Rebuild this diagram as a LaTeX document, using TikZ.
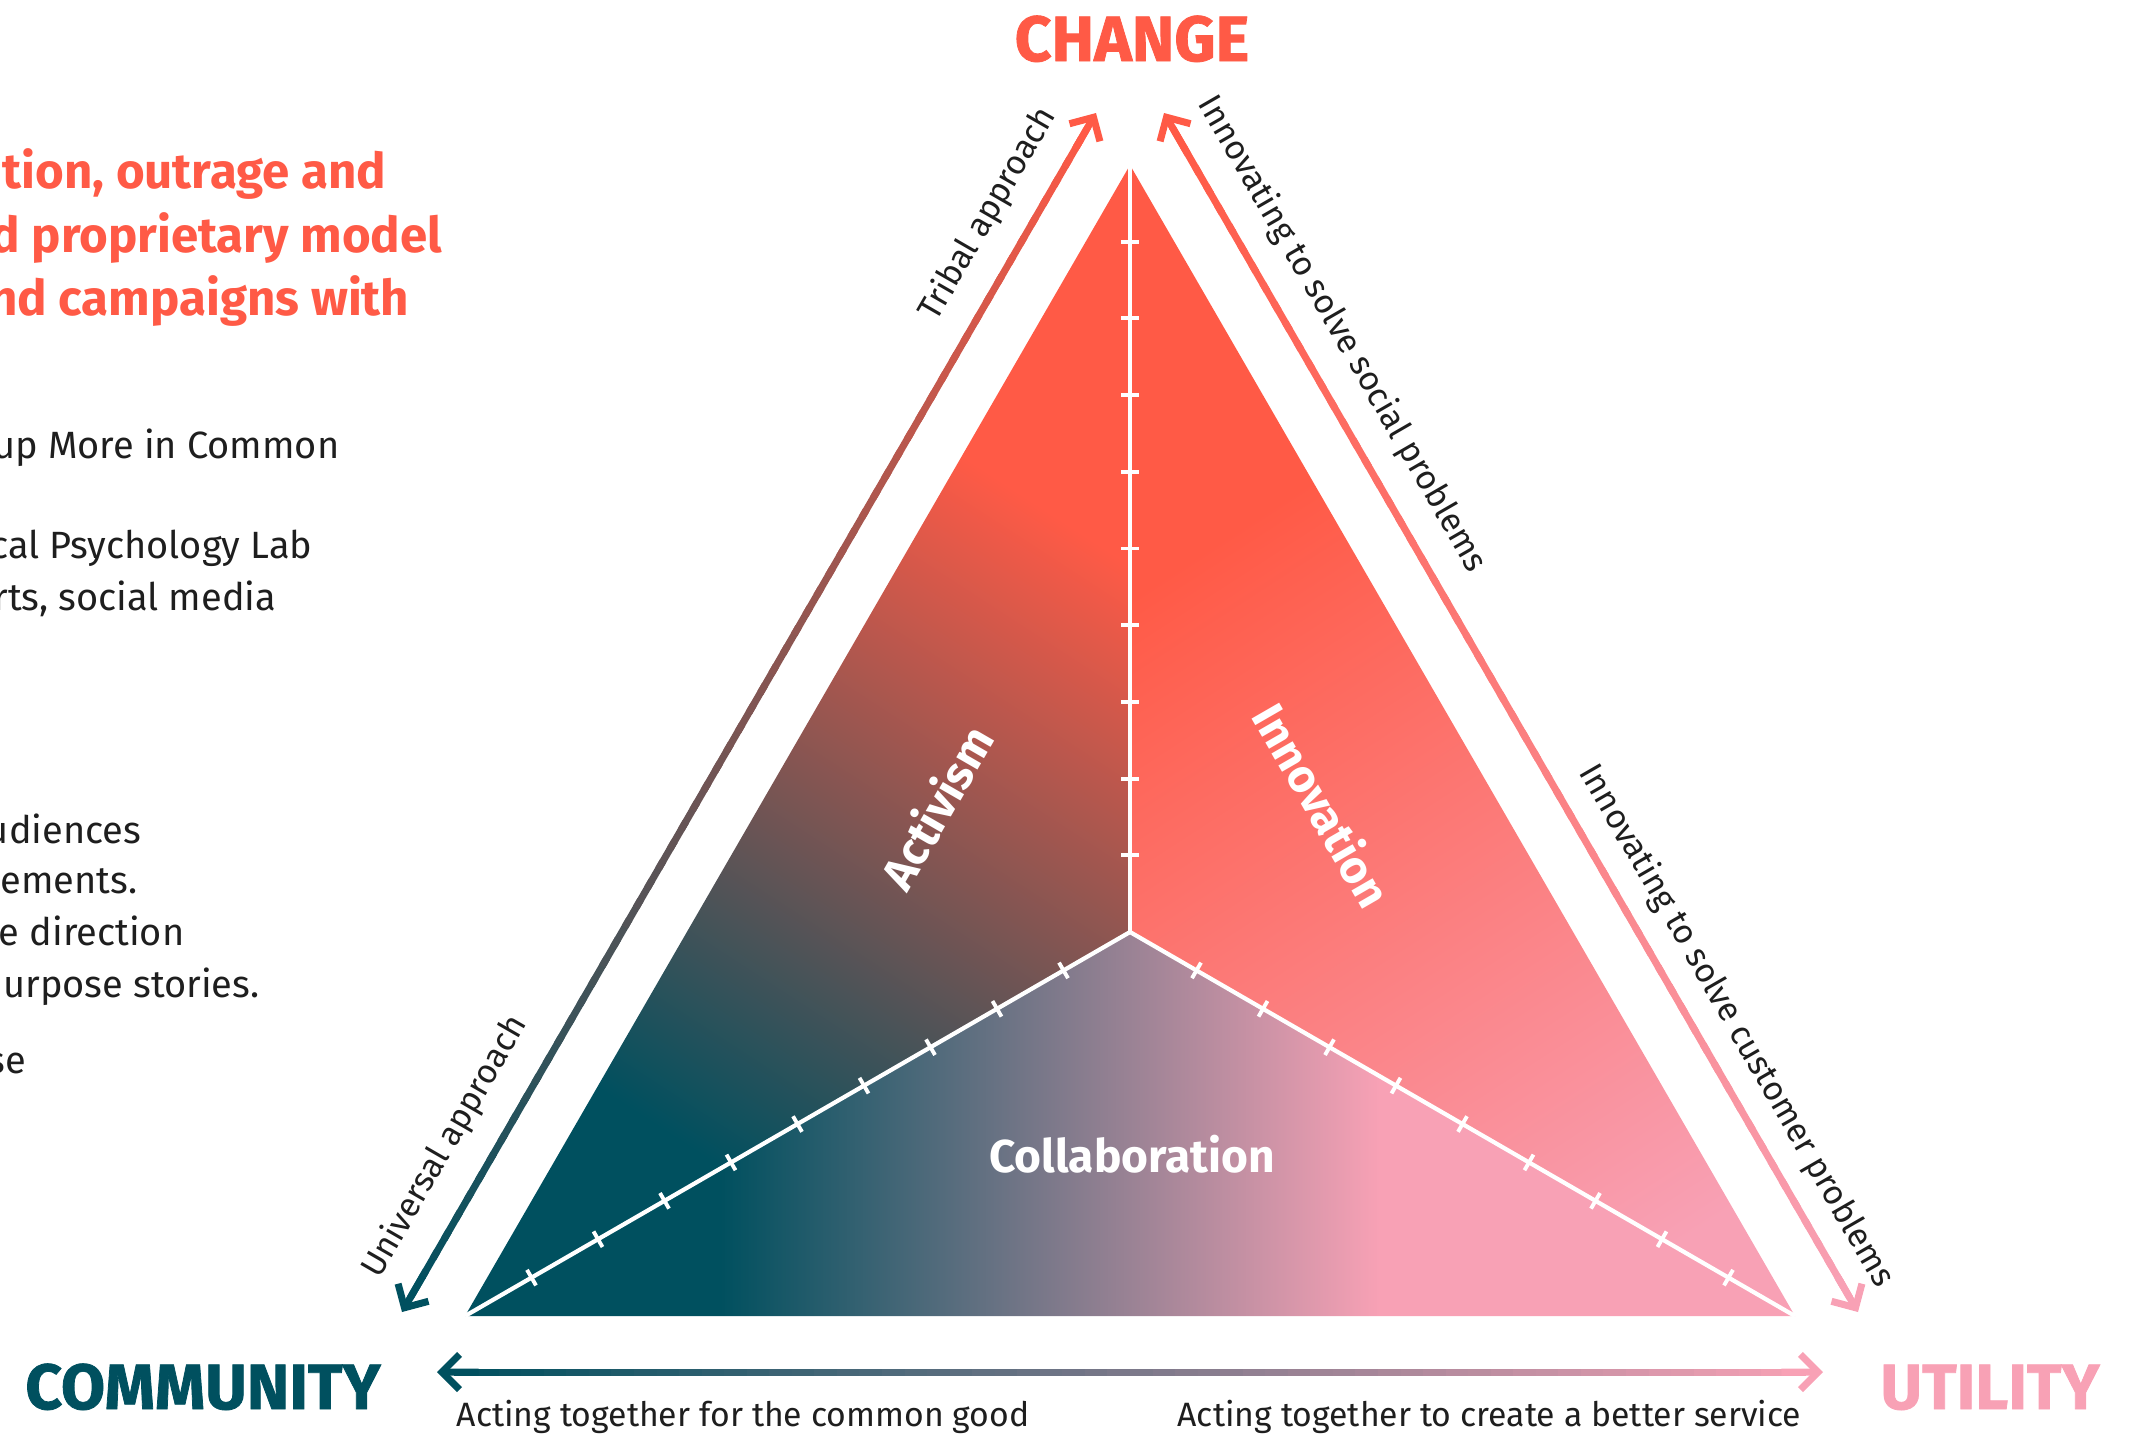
\documentclass[tikz,border=0pt]{standalone}
\usepackage{fontspec}
\setmainfont{Fira Sans}
\usetikzlibrary{arrows.meta,calc}

\definecolor{coralc}{HTML}{FF5A46}
\definecolor{tealc}{HTML}{00505F}
\definecolor{pinkc}{HTML}{F8A1B5}
\definecolor{inkc}{HTML}{1E1E1E}

% fills of the three zones
\pgfdeclareverticalshading{activfade}{100bp}{color(0bp)=(tealc); color(35bp)=(tealc); color(61bp)=(coralc); color(100bp)=(coralc)}
\pgfdeclareverticalshading{innovfade}{100bp}{color(0bp)=(pinkc); color(30bp)=(pinkc); color(60bp)=(coralc); color(100bp)=(coralc)}
\pgfdeclarehorizontalshading{collabfade}{100bp}{color(0bp)=(tealc); color(34.6bp)=(tealc); color(59.4bp)=(pinkc); color(100bp)=(pinkc)}

\tikzset{
  spoke/.style={white, line width=1.2pt},
  tickmark/.style={white, line width=1.1pt},
  axisline/.style={line width=2pt},
  barb/.style={line width=2pt, -{Straight Barb[length=5pt,width=10pt]}},
  pole/.style={font=\bfseries\fontsize{18.2}{20}\selectfont\addfontfeature{FakeBold=1.2}, inner sep=0, anchor=base},
  headline/.style={font=\bfseries\fontsize{14}{16}\selectfont, text=coralc, inner sep=0, anchor=base east},
  blurb/.style={font=\fontsize{10.8}{13}\selectfont, text=inkc, inner sep=0, anchor=base east},
  axislabel/.style={font=\fontsize{9.6}{11}\selectfont, text=inkc, inner sep=0},
  zonelabel/.style={font=\bfseries\fontsize{13.1}{15}\selectfont, text=white, inner sep=0}
}

\begin{document}
\begin{tikzpicture}[x=0.01cm, y=-0.01cm]
\useasboundingbox (0,0) rectangle (2139,1435);

\coordinate (apex) at (1130,165);
\coordinate (bl) at (465,1316);
\coordinate (br) at (1795,1316);
\coordinate (cen) at (1130,932);

% arrow ends
\coordinate (ua) at (402,1312);
\coordinate (ta) at (1096,113);
\coordinate (ts) at (1164,113);
\coordinate (us) at (1858,1312);
\coordinate (uc) at (437,1372);
\coordinate (uu) at (1823,1372);

% zones
\begin{scope}
  \clip (apex) -- (cen) -- (bl) -- cycle;
  \begin{scope}[transform canvas={shift={(cen)}, rotate=-33}]
    \shade[shading=activfade] (-900,-700) rectangle (900,700);
  \end{scope}
\end{scope}
\begin{scope}
  \clip (apex) -- (cen) -- (br) -- cycle;
  \begin{scope}[transform canvas={shift={(cen)}, rotate=33}]
    \shade[shading=innovfade] (-900,-700) rectangle (900,700);
  \end{scope}
\end{scope}
\shade[shading=collabfade] (cen) -- (bl) -- (br) -- cycle;

\draw[spoke] (cen) -- (apex);
\draw[spoke] (cen) -- (bl);
\draw[spoke] (cen) -- (br);

\foreach \k in {1,...,9} {
  \draw[tickmark] ($(cen)!\k/10!(apex)$) ++(-9,0) -- ++(18,0);
  \draw[tickmark] ($(cen)!\k/10!(bl)$) ++(-4.5,-7.8) -- ++(9,15.6);
  \draw[tickmark] ($(cen)!\k/10!(br)$) ++(4.5,-7.8) -- ++(-9,15.6);
}

% axes with a colour run
\foreach \tail/\head/\tailc/\headc in {ua/ta/tealc/coralc, ts/us/coralc/pinkc, uc/uu/tealc/pinkc} {
  \foreach \i in {0,...,59} {
    \pgfmathsetmacro\sa{0.012+0.976*\i/60}
    \pgfmathsetmacro\sb{0.012+0.976*min(60,\i+1.4)/60}
    \pgfmathtruncatemacro\mx{100*(\i+0.5)/60}
    \draw[axisline, color=\headc!\mx!\tailc] ($(\tail)!\sa!(\head)$) -- ($(\tail)!\sb!(\head)$);
  }
  \draw[barb, color=\tailc] ($(\tail)!0.03!(\head)$) -- (\tail);
  \draw[barb, color=\headc] ($(\head)!0.03!(\tail)$) -- (\head);
}

\node[zonelabel, rotate=60] (activism) at (936,807) {Activism};
\node[zonelabel, rotate=-60] (innovation) at (1323,805) {Innovation};
\node[zonelabel] (collab) at (1132,1154) {Collaboration};

\node[axislabel, rotate=60] (tribal) at (988,214) {Tribal approach};
\node[axislabel, rotate=60] (universal) at (445,1147) {Universal approach};
\node[axislabel, rotate=-60] (social) at (1342,334) {Innovating to solve social problems};
\node[axislabel, rotate=-60] (customer) at (1736,1026) {Innovating to solve customer problems};
\node[axislabel, anchor=base west] (common) at (456,1426) {Acting together for the common good};
\node[axislabel, anchor=base east] (service) at (1802,1426) {Acting together to create a better service};

\node[pole, text=coralc] (change) at (1132,61) {CHANGE};
\node[pole, text=tealc] (community) at (203,1409) {COMMUNITY};
\node[pole, text=pinkc] (utility) at (1990,1409) {UTILITY};

% text block at the left edge
\node[headline] (red1) at (387,188) {tion, outrage and};
\node[headline] (red2) at (443,252) {d proprietary model};
\node[headline] (red3) at (410,315) {nd campaigns with};

\node[blurb] (line1) at (340,458) {up More in Common};
\node[blurb] (line2) at (313,558) {cal Psychology Lab};
\node[blurb] (line3) at (277,610) {rts, social media};
\node[blurb] (line4) at (142,843) {udiences};
\node[blurb] (line5) at (138,893) {ements.};
\node[blurb] (line6) at (185,945) {e direction};
\node[blurb] (line7) at (260,997) {urpose stories.};
\node[blurb] (line8) at (27,1073) {se};

\end{tikzpicture}
\end{document}
